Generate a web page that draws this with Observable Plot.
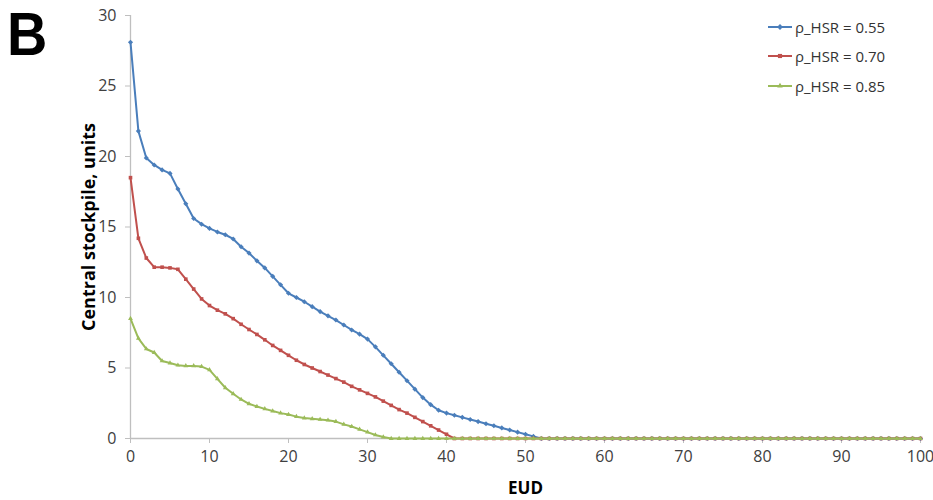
<!DOCTYPE html>
<html>
<head>
<meta charset="utf-8">
<script src="https://cdn.jsdelivr.net/npm/d3@7"></script>
<script src="https://cdn.jsdelivr.net/npm/@observablehq/plot@0.6"></script>
<style>
  html, body { margin: 0; padding: 0; background: #fff; }
  #wrap { position: relative; width: 933px; height: 500px; font-family: "Open Sans", sans-serif; }
  #panel { position: absolute; left: 7px; top: 3px; line-height: 1; font-family: "Liberation Sans", Arial, sans-serif; font-weight: bold; font-size: 62px; color: #000; transform: scaleX(0.9); transform-origin: left top; }
  #legend { position: absolute; left: 767px; top: 12px; font-size: 15px; color: #333; }
  .item { display: flex; align-items: center; height: 29.5px; }
  .item svg { margin-right: 2px; }
</style>
</head>
<body>
<div id="wrap">
  <div id="chart"></div>
  <div id="panel">B</div>
  <div id="legend"></div>
</div>
<script>
const seriesNames = ["ρ_HSR = 0.55", "ρ_HSR = 0.70", "ρ_HSR = 0.85"];
const seriesColors = ["#4a7ebb", "#c0504d", "#9bbb59"];
const seriesSymbols = ["diamond2", "square2", "triangle2"];
const xTicks = [0, 10, 20, 30, 40, 50, 60, 70, 80, 90, 100];
const yTicks = [0, 5, 10, 15, 20, 25, 30];

const eud = [0,1,2,3,4,5,6,7,8,9,10,11,12,13,14,15,16,17,18,19,20,21,22,23,24,25,26,27,28,29,30,31,32,33,34,35,36,37,38,39,40,41,42,43,44,45,46,47,48,49,50,51,52,53,54,55,56,57,58,59,60,61,62,63,64,65,66,67,68,69,70,71,72,73,74,75,76,77,78,79,80,81,82,83,84,85,86,87,88,89,90,91,92,93,94,95,96,97,98,99,100];

const rho055 = [28.1,21.8,19.9,19.4,19.05,18.8,17.7,16.65,15.6,15.2,14.9,14.65,14.45,14.15,13.6,13.15,12.6,12.1,11.5,10.9,10.3,10.0,9.7,9.35,9.0,8.7,8.4,8.05,7.7,7.4,7.05,6.5,5.9,5.3,4.7,4.1,3.5,2.9,2.4,2.0,1.8,1.65,1.5,1.35,1.2,1.05,0.9,0.75,0.6,0.45,0.3,0.15,0,
  0,0,0,0,0,0,0,0,0,0,0,0,0,0,0,0,0,0,0,0,0,0,0,0,0,0,0,0,0,0,0,0,0,0,0,0,0,0,0,0,0,0,0,0,0,0,0,0];

const rho070 = [18.5,14.2,12.8,12.15,12.15,12.1,12.0,11.3,10.6,9.9,9.43,9.1,8.84,8.5,8.1,7.73,7.38,7.0,6.6,6.25,5.9,5.55,5.25,5.0,4.75,4.5,4.25,4.0,3.7,3.45,3.2,2.95,2.65,2.35,2.05,1.8,1.5,1.2,0.9,0.6,0.3,0,
  0,0,0,0,0,0,0,0,0,0,0,0,0,0,0,0,0,0,0,0,0,0,0,0,0,0,0,0,0,0,0,0,0,0,0,0,0,0,0,0,0,0,0,0,0,0,0,0,0,0,0,0,0,0,0,0,0,0,0];

const rho085 = [8.5,7.1,6.35,6.1,5.5,5.35,5.2,5.15,5.15,5.1,4.87,4.23,3.6,3.17,2.77,2.46,2.27,2.1,1.95,1.8,1.7,1.55,1.45,1.4,1.35,1.3,1.2,1.0,0.85,0.65,0.45,0.25,0.1,0,
  0,0,0,0,0,0,0,0,0,0,0,0,0,0,0,0,0,0,0,0,0,0,0,0,0,0,0,0,0,0,0,0,0,0,0,0,0,0,0,0,0,0,0,0,0,0,0,0,0,0,0,0,0,0,0,0,0,0,0,0,0,0,0,0,0,0,0];

const allSeries = [rho055, rho070, rho085];
const rows = [];
allSeries.forEach((vals, i) => {
  eud.forEach((x, j) => rows.push({eud: x, value: vals[j], series: seriesNames[i]}));
});

const axisGray = "#bfbfbf";
const textColor = "#404040";

const marks = [
  Plot.ruleY([0], {stroke: axisGray, strokeWidth: 1.3}),
  Plot.ruleX([0], {y1: 0, y2: 30, stroke: axisGray, strokeWidth: 1.3}),
  Plot.axisY({ticks: yTicks, tickSize: 5, tickPadding: 9, stroke: axisGray, color: textColor, fontSize: 16, label: null}),
  Plot.axisX({ticks: xTicks, tickSize: 5, tickPadding: 7, stroke: axisGray, color: textColor, fontSize: 16, label: null}),
  Plot.text(["Central stockpile, units"], {frameAnchor: "left", textAnchor: "middle", rotate: -90, dx: -41, fontWeight: "bold", fontSize: 18, fill: "#000"}),
  Plot.text(["EUD"], {frameAnchor: "bottom", dy: 55, fontWeight: "bold", fontSize: 17, fill: "#000"})
];
seriesNames.forEach((name, i) => {
  const d = rows.filter(r => r.series === name);
  marks.push(Plot.line(d, {x: "eud", y: "value", stroke: seriesColors[i], strokeWidth: 2}));
  marks.push(Plot.dot(d, {x: "eud", y: "value", symbol: () => seriesSymbols[i], fill: seriesColors[i], r: 2.3}));
});

const chart = Plot.plot({
  width: 933,
  height: 500,
  marginLeft: 130,
  marginRight: 13,
  marginTop: 15,
  marginBottom: 62,
  style: {fontFamily: "'Open Sans', sans-serif", background: "#fff"},
  x: {domain: [0, 100]},
  y: {domain: [0, 30]},
  symbol: {type: "identity"},
  marks
});
document.getElementById("chart").appendChild(chart);

const legend = document.getElementById("legend");
seriesNames.forEach((name, i) => {
  const item = document.createElement("div");
  item.className = "item";
  const sym = d3.symbol(i === 0 ? d3.symbolDiamond2 : i === 1 ? d3.symbolSquare2 : d3.symbolTriangle2, 22)();
  item.innerHTML = `<svg width="26" height="10"><line x1="1" x2="25" y1="5" y2="5" stroke="${seriesColors[i]}" stroke-width="2"/><path d="${sym}" transform="translate(13,5)" fill="${seriesColors[i]}"/></svg><span>${name}</span>`;
  legend.appendChild(item);
});
</script>
</body>
</html>
